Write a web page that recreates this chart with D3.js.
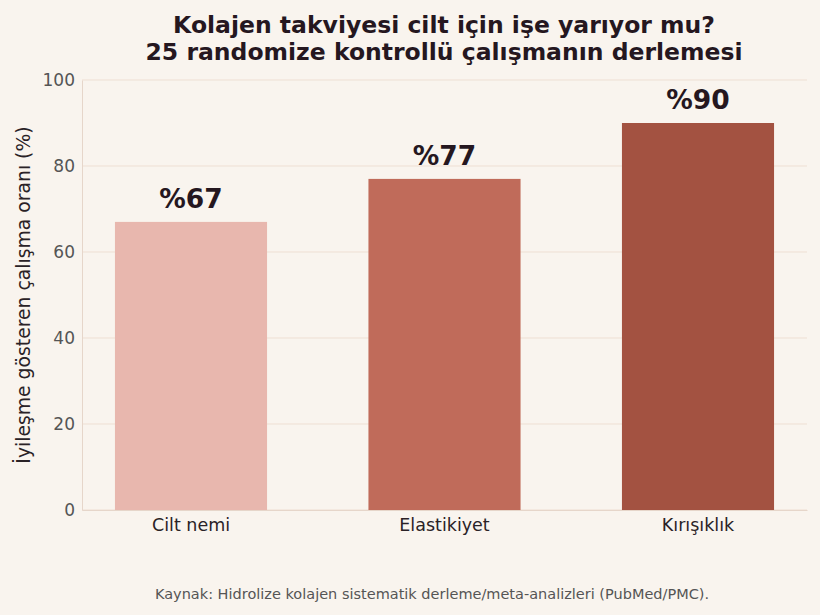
<!DOCTYPE html>
<html>
<head>
<meta charset="utf-8">
<script src="https://cdn.jsdelivr.net/npm/d3@7"></script>
<style>
  body { margin: 0; background: #f9f4ee; }
  svg { display: block; font-family: "DejaVu Sans", sans-serif; }
</style>
</head>
<body>
<div id="chart"></div>
<script>
const categories = ["Cilt nemi", "Elastikiyet", "Kırışıklık"];
const values = [67, 77, 90];
const barColors = ["#e8b7ae", "#c06b5a", "#a35241"];
const yTicks = [0, 20, 40, 60, 80, 100];

const w = 820, h = 615;
const margin = {top: 80, right: 13, bottom: 105, left: 82};

const svg = d3.select("#chart").append("svg")
    .attr("width", w)
    .attr("height", h);

svg.append("rect").attr("width", w).attr("height", h).attr("fill", "#f9f4ee");

const x = d3.scaleBand()
    .domain(categories)
    .range([margin.left, w - margin.right])
    .paddingInner(0.4)
    .paddingOuter(0.13);

const y = d3.scaleLinear()
    .domain([0, 100])
    .range([h - margin.bottom, margin.top]);

// grid
svg.append("g")
    .selectAll("line")
    .data(yTicks)
    .enter()
    .append("line")
    .attr("x1", margin.left)
    .attr("x2", w - margin.right)
    .attr("y1", d => y(d))
    .attr("y2", d => y(d))
    .attr("stroke", "#eedfd3")
    .attr("stroke-width", 1);

// bars
svg.append("g")
    .selectAll("rect")
    .data(values)
    .enter()
    .append("rect")
    .attr("x", (d, i) => x(categories[i]))
    .attr("y", d => y(d))
    .attr("width", x.bandwidth())
    .attr("height", d => y(0) - y(d))
    .attr("fill", (d, i) => barColors[i]);

// value labels
svg.append("g")
    .selectAll("text")
    .data(values)
    .enter()
    .append("text")
    .attr("x", (d, i) => x(categories[i]) + x.bandwidth() / 2)
    .attr("y", d => y(d) - 14)
    .attr("text-anchor", "middle")
    .attr("font-size", 26.5)
    .attr("font-weight", "bold")
    .attr("fill", "#25171f")
    .text(d => "%" + d);

// y axis
const yAxis = svg.append("g")
    .attr("transform", `translate(${margin.left},0)`)
    .call(d3.axisLeft(y).tickValues(yTicks).tickSize(0).tickPadding(7));
yAxis.select(".domain").attr("stroke", "#e6d6ca");
yAxis.selectAll("text")
    .attr("font-size", 17)
    .attr("fill", "#555555")
    .attr("font-family", "DejaVu Sans, sans-serif");

// x axis
const xAxis = svg.append("g")
    .attr("transform", `translate(0,${y(0)})`)
    .call(d3.axisBottom(x).tickSize(0).tickPadding(9));
xAxis.select(".domain").attr("stroke", "#e6d6ca");
xAxis.selectAll("text")
    .attr("font-size", 17.5)
    .attr("fill", "#2a2226")
    .attr("font-family", "DejaVu Sans, sans-serif");

// y label
svg.append("text")
    .attr("transform", `translate(30,${(margin.top + h - margin.bottom) / 2}) rotate(-90)`)
    .attr("text-anchor", "middle")
    .attr("font-size", 18.8)
    .attr("fill", "#2a2226")
    .text("İyileşme gösteren çalışma oranı (%)");

// title
const title = svg.append("text")
    .attr("text-anchor", "middle")
    .attr("font-size", 23.5)
    .attr("font-weight", "bold")
    .attr("fill", "#25171f");
title.append("tspan").attr("x", w / 2 + 34).attr("y", 33).text("Kolajen takviyesi cilt için işe yarıyor mu?");
title.append("tspan").attr("x", w / 2 + 34).attr("y", 60).text("25 randomize kontrollü çalışmanın derlemesi");

// source
svg.append("text")
    .attr("x", w / 2 + 22)
    .attr("y", 599)
    .attr("text-anchor", "middle")
    .attr("font-size", 14.5)
    .attr("fill", "#555555")
    .text("Kaynak: Hidrolize kolajen sistematik derleme/meta-analizleri (PubMed/PMC).");
</script>
</body>
</html>
